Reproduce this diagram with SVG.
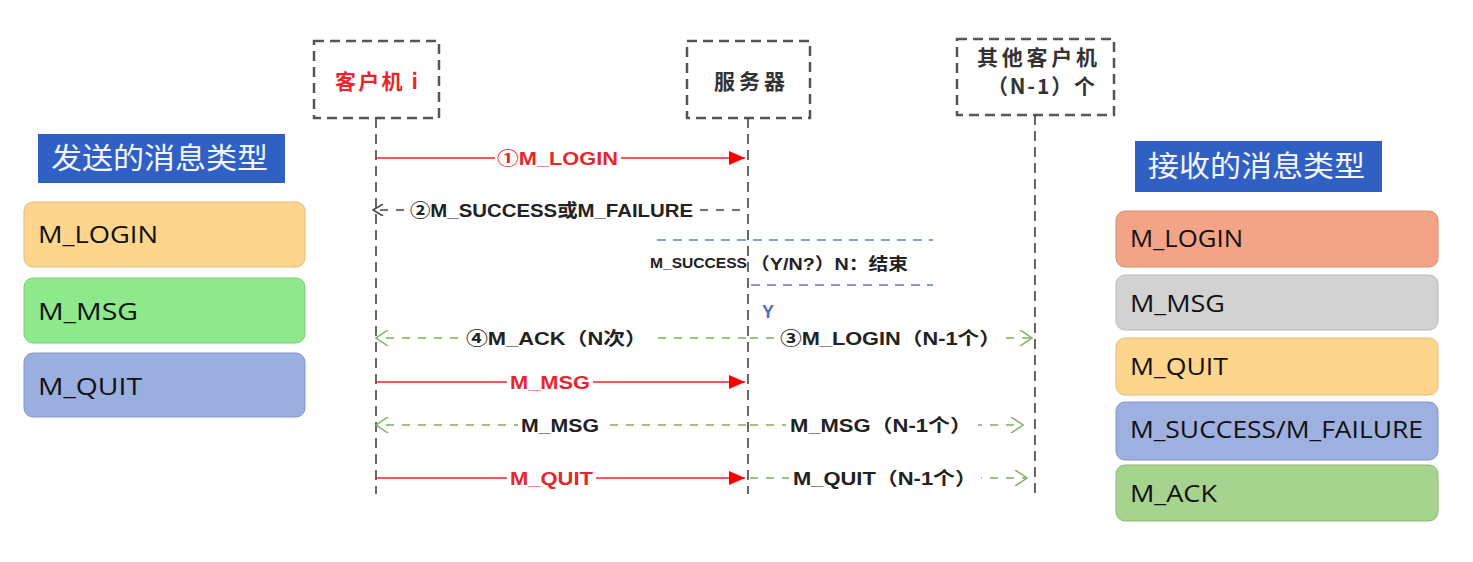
<svg xmlns="http://www.w3.org/2000/svg" width="1473" height="562" viewBox="0 0 1473 562">
<style>
.actor{fill:#fff;stroke:#555;stroke-width:2.5;stroke-dasharray:10 6}
.life{stroke:#444;stroke-width:1.6;stroke-dasharray:10 6;fill:none}
.red{stroke:#f22;stroke-width:1.6;fill:none}
.blk{stroke:#444;stroke-width:1.6;stroke-dasharray:8 8;fill:none}
.grn{stroke:#7fae5a;stroke-width:1.6;stroke-dasharray:8 8;fill:none}
.blu{stroke:#7f9fcf;stroke-width:1.8;stroke-dasharray:9 7;fill:none}
.lbl{font-family:"Liberation Sans","Noto Sans CJK SC",sans-serif;font-weight:bold;font-size:18px;fill:#222}
.lblr{font-family:"Liberation Sans","Noto Sans CJK SC",sans-serif;font-weight:bold;font-size:18px;fill:#e8262b}
.head{font-family:"Noto Sans CJK SC",sans-serif;font-size:29px;fill:#f4f6ff}
.item{font-family:"Open Sans","Liberation Sans",sans-serif;font-size:24px;fill:#111}
.ttl{font-family:"Noto Sans CJK SC","Liberation Sans",sans-serif;font-weight:bold;font-size:21px;fill:#333}
.bg{fill:#fff}
</style>
<defs>
<marker id="fill" markerWidth="16" markerHeight="14" refX="16" refY="7" orient="auto" markerUnits="userSpaceOnUse"><path d="M0,0 L16,7 L0,14 z" fill="#f00"/></marker>
<marker id="openK" markerWidth="12" markerHeight="12" refX="11" refY="6" orient="auto" markerUnits="userSpaceOnUse"><path d="M1,0 L11,6 L1,12" fill="none" stroke="#444" stroke-width="1.5"/></marker>
<marker id="openG" markerWidth="14" markerHeight="16" refX="13" refY="8" orient="auto" markerUnits="userSpaceOnUse"><path d="M1,0 L13,8 L1,16" fill="none" stroke="#7fae5a" stroke-width="1.5"/></marker>
</defs>
<rect width="1473" height="562" fill="#fff"/>

<g id="left-legend">
<rect x="38" y="134" width="247" height="49" fill="#3060c4"/>
<text class="head" x="51" y="169" textLength="217" lengthAdjust="spacingAndGlyphs">发送的消息类型</text>
<rect x="24" y="202" width="281" height="65" rx="9" fill="#fdd58c" stroke="#e3bb73"/>
<text class="item" x="38" y="243" textLength="120" lengthAdjust="spacingAndGlyphs">M_LOGIN</text>
<rect x="24" y="278" width="281" height="65" rx="9" fill="#8ee98c" stroke="#7ccc7a"/>
<text class="item" x="38" y="320" textLength="100" lengthAdjust="spacingAndGlyphs">M_MSG</text>
<rect x="24" y="353" width="281" height="64" rx="9" fill="#9aaee0" stroke="#8296c8"/>
<text class="item" x="38" y="395" textLength="104" lengthAdjust="spacingAndGlyphs">M_QUIT</text>
</g>

<g id="right-legend">
<rect x="1135" y="141" width="247" height="51" fill="#3060c4"/>
<text class="head" x="1148" y="177" textLength="217" lengthAdjust="spacingAndGlyphs">接收的消息类型</text>
<rect x="1116" y="211" width="322" height="56" rx="9" fill="#f4a486" stroke="#d88c70"/>
<text class="item" x="1130" y="247" textLength="113" lengthAdjust="spacingAndGlyphs">M_LOGIN</text>
<rect x="1116" y="275" width="322" height="55" rx="9" fill="#d2d2d2" stroke="#b8b8b8"/>
<text class="item" x="1130" y="312" textLength="95" lengthAdjust="spacingAndGlyphs">M_MSG</text>
<rect x="1116" y="338" width="322" height="57" rx="9" fill="#fdd58c" stroke="#e3bb73"/>
<text class="item" x="1130" y="375" textLength="98" lengthAdjust="spacingAndGlyphs">M_QUIT</text>
<rect x="1116" y="402" width="322" height="58" rx="9" fill="#9db0e0" stroke="#8296c8"/>
<text class="item" x="1130" y="438" textLength="293" lengthAdjust="spacingAndGlyphs">M_SUCCESS/M_FAILURE</text>
<rect x="1116" y="465" width="322" height="56" rx="9" fill="#a6d38e" stroke="#8cba76"/>
<text class="item" x="1130" y="502" textLength="87" lengthAdjust="spacingAndGlyphs">M_ACK</text>
</g>

<g id="client">
<rect class="actor" x="314" y="41" width="125" height="77"/>
<text class="ttl" x="335" y="89" textLength="83" style="fill:#e8262b">客户机 i</text>
</g>
<g id="server">
<rect class="actor" x="687" y="41" width="123" height="77"/>
<text class="ttl" x="714" y="89" textLength="71">服务器</text>
</g>
<g id="others">
<rect class="actor" x="957" y="39" width="157" height="76"/>
<text class="ttl" x="977" y="65" textLength="120">其他客户机</text>
<text class="ttl" x="987" y="94" textLength="108">（N-1）个</text>
</g>

<g id="connectors">
<line class="life" x1="376" y1="118" x2="376" y2="494"/>
<line class="life" x1="748" y1="118" x2="748" y2="494"/>
<line class="life" x1="1035" y1="115" x2="1035" y2="494"/>

<line class="red" x1="376" y1="158" x2="745" y2="158" marker-end="url(#fill)"/>
<rect class="bg" x="495" y="148" width="126" height="20"/>
<text class="lblr" x="497" y="165" textLength="121" lengthAdjust="spacingAndGlyphs">①M_LOGIN</text>

<line class="blk" x1="740" y1="210" x2="373" y2="210" marker-end="url(#openK)"/>
<rect class="bg" x="405" y="199" width="292" height="22"/>
<text class="lbl" x="410" y="217" textLength="283" lengthAdjust="spacingAndGlyphs">②M_SUCCESS或M_FAILURE</text>

<line class="blu" x1="657" y1="240" x2="933" y2="240"/>
<line class="blu" x1="751" y1="285" x2="933" y2="285"/>
<text class="lbl" x="650" y="268" style="font-size:15px" textLength="97" lengthAdjust="spacingAndGlyphs">M_SUCCESS</text>
<text class="lbl" x="750" y="270" style="font-size:17px" textLength="158" lengthAdjust="spacingAndGlyphs">（Y/N?）N：结束</text>
<text class="lbl" x="762" y="318" style="fill:#4a72c4">Y</text>

<line class="grn" x1="746" y1="338" x2="376" y2="338" marker-end="url(#openG)"/>
<rect class="bg" x="462" y="327" width="189" height="22"/>
<text class="lbl" x="466" y="345" textLength="181" lengthAdjust="spacingAndGlyphs">④M_ACK（N次）</text>
<line class="grn" x1="750" y1="338" x2="1032" y2="338" marker-end="url(#openG)"/>
<rect class="bg" x="776" y="327" width="229" height="22"/>
<text class="lbl" x="780" y="345" textLength="221" lengthAdjust="spacingAndGlyphs">③M_LOGIN（N-1个）</text>

<line class="red" x1="376" y1="382" x2="745" y2="382" marker-end="url(#fill)"/>
<rect class="bg" x="507" y="372" width="86" height="20"/>
<text class="lblr" x="510" y="389" textLength="80" lengthAdjust="spacingAndGlyphs">M_MSG</text>

<line class="grn" x1="746" y1="425" x2="376" y2="425" marker-end="url(#openG)"/>
<rect class="bg" x="518" y="415" width="84" height="20"/>
<text class="lbl" x="521" y="432" textLength="78" lengthAdjust="spacingAndGlyphs">M_MSG</text>
<line class="grn" x1="750" y1="425" x2="1023" y2="425" marker-end="url(#openG)"/>
<rect class="bg" x="786" y="414" width="192" height="22"/>
<text class="lbl" x="790" y="432" textLength="182" lengthAdjust="spacingAndGlyphs">M_MSG（N-1个）</text>

<line class="red" x1="376" y1="478" x2="745" y2="478" marker-end="url(#fill)"/>
<rect class="bg" x="507" y="468" width="89" height="20"/>
<text class="lblr" x="510" y="485" textLength="83" lengthAdjust="spacingAndGlyphs">M_QUIT</text>
<line class="grn" x1="750" y1="478" x2="1027" y2="478" marker-end="url(#openG)"/>
<rect class="bg" x="789" y="467" width="192" height="22"/>
<text class="lbl" x="793" y="485" textLength="184" lengthAdjust="spacingAndGlyphs">M_QUIT（N-1个）</text>
</g>
</svg>
